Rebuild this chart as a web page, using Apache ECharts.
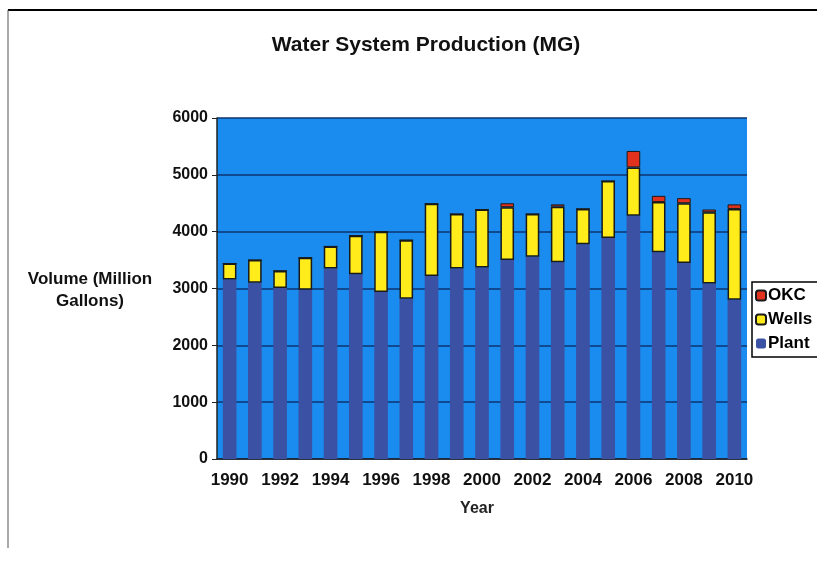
<!DOCTYPE html>
<html><head><meta charset="utf-8">
<script src="https://cdn.jsdelivr.net/npm/echarts@6/dist/echarts.min.js"></script>
<style>html,body{margin:0;padding:0;background:#fff}#c{width:817px;height:563px}</style>
</head><body><div id="c"></div>
<script>
var years = ['1990','1991','1992','1993','1994','1995','1996','1997','1998','1999','2000','2001','2002','2003','2004','2005','2006','2007','2008','2009','2010'];
var plant = [3160,3100,3010,2980,3350,3250,2940,2820,3220,3350,3370,3500,3560,3460,3780,3890,4280,3640,3450,3090,2800];
var wells = [280,400,300,560,390,680,1060,1030,1270,960,1020,930,750,980,620,1000,850,880,1050,1250,1600];
var okc = [0,0,0,0,0,0,0,0,0,0,0,70,0,40,0,0,290,110,90,50,80];
var yTicks = [0,1000,2000,3000,4000,5000,6000];

var font = 'Liberation Sans, Arial, sans-serif';
var chart = echarts.init(document.getElementById('c'));
chart.setOption({
  animation:false,
  backgroundColor:'#fff',
  title:{text:'Water System Production (MG)', left:421, top:30, textAlign:'center',
    textStyle:{fontFamily:font, fontWeight:'bold', fontSize:21, color:'#111'}},
  legend:{orient:'vertical', left:752, top:282, itemWidth:10, itemHeight:10, itemGap:7,
    padding:[5,30,5,3], borderColor:'#000', borderWidth:1.5,
    data:['OKC','Wells','Plant'],
    textStyle:{fontFamily:font, fontWeight:'bold', fontSize:17, color:'#000', padding:[0,0,0,-3]}},
  grid:{left:217, right:70, top:118, bottom:104, show:true, backgroundColor:'#1a8cf0', borderWidth:0},
  xAxis:{type:'category', data:years,
    axisLine:{lineStyle:{color:'#222', width:1.5}},
    axisTick:{alignWithLabel:true, length:5, lineStyle:{color:'#222'}},
    axisLabel:{interval:1, margin:13, fontFamily:font, fontWeight:'bold', fontSize:17, color:'#111'}},
  yAxis:{type:'value', min:0, max:6000, interval:1000,
    axisLine:{show:true, lineStyle:{color:'#222', width:1.5}},
    axisTick:{show:true, length:5, lineStyle:{color:'#222'}},
    axisLabel:{fontFamily:font, fontWeight:'bold', fontSize:16, color:'#111', margin:9,
      formatter:function(v){return yTicks.indexOf(v)>=0? String(v):'';}},
    splitLine:{lineStyle:{color:'#0d3470', width:1.5}}},
  graphic:[
    {type:'line', shape:{x1:8,y1:10,x2:817,y2:10}, style:{stroke:'#000', lineWidth:2}},
    {type:'line', shape:{x1:8,y1:10,x2:8,y2:548}, style:{stroke:'#555', lineWidth:1}},
    {type:'text', x:90, y:268, style:{text:'Volume (Million\nGallons)', textAlign:'center',
      font:'bold 17px Liberation Sans, Arial, sans-serif', fill:'#111', lineHeight:22}},
    {type:'text', x:477, y:501, style:{text:'Year', textAlign:'center',
      font:'bold 16px Liberation Sans, Arial, sans-serif', fill:'#222'}}
  ],
  series:[
    {name:'Plant', type:'bar', stack:'t', data:plant, barWidth:'54%',
      itemStyle:{color:'#3b51a3'}},
    {name:'Wells', type:'bar', stack:'t', data:wells,
      itemStyle:{color:'#ffec1a', borderColor:'#1a1a1a', borderWidth:1.5}},
    {name:'OKC', type:'bar', stack:'t', data:okc,
      itemStyle:{color:'#e2321e', borderColor:'#1a1a1a', borderWidth:1}}
  ]
});
</script></body></html>
